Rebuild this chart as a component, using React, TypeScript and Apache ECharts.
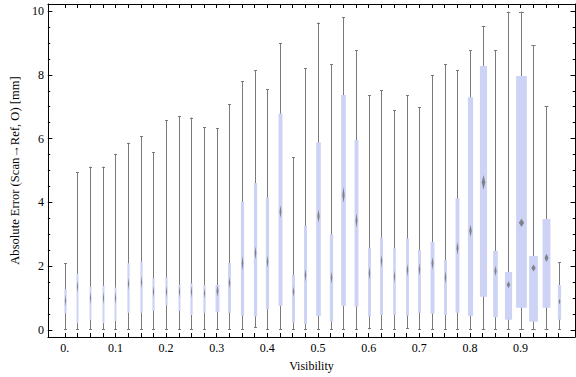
import React, { useEffect, useRef } from "react";
import * as echarts from "echarts";

// Visibility categories (box positions)
const visibility: number[] = Array.from({ length: 40 }, (_, i) => +(i * 0.025).toFixed(3));

// Whisker extremes and quartiles (mm)
const whiskerMax: number[] = [
  2.09, 4.94, 5.12, 5.12, 5.52, 5.87, 6.08, 5.57, 6.58, 6.71,
  6.66, 6.36, 6.32, 7.07, 7.8, 8.14, 7.54, 8.99, 5.41, 8.2,
  9.64, 8.33, 9.8, 8.77, 7.36, 7.51, 6.89, 7.36, 6.98, 7.98,
  8.33, 8.14, 8.77, 9.53, 8.77, 9.98, 9.98, 8.92, 7.01, 2.13,
];
const upperQuartile: number[] = [
  1.28, 1.76, 1.36, 1.39, 1.33, 2.09, 2.14, 1.62, 1.65, 1.41,
  1.46, 1.41, 1.41, 2.1, 4.02, 4.61, 4.16, 6.79, 1.72, 3.27,
  5.88, 3.01, 7.37, 5.96, 2.58, 2.9, 2.56, 2.87, 2.51, 2.76,
  2.19, 4.13, 7.3, 8.28, 2.48, 1.82, 7.96, 2.32, 3.48, 1.41,
];
const medians: number[] = [
  0.92, 1.36, 1.0, 1.0, 1.0, 1.45, 1.5, 1.2, 1.2, 1.2,
  1.2, 1.15, 1.22, 1.48, 2.09, 2.42, 2.14, 3.71, 1.2, 1.72,
  3.57, 1.64, 4.23, 3.43, 1.78, 2.16, 1.67, 1.88, 1.9, 2.09,
  1.65, 2.56, 3.11, 4.63, 1.85, 1.42, 3.36, 1.94, 2.26, 0.89,
];
const lowerQuartile: number[] = [
  0.52, 0.21, 0.31, 0.21, 0.28, 0.54, 0.54, 0.6, 0.77, 0.6,
  0.47, 0.54, 0.57, 0.54, 0.45, 0.42, 0.65, 0.75, 0.23, 0.19,
  0.44, 0.26, 0.75, 0.73, 0.42, 0.47, 0.47, 0.45, 0.54, 0.51,
  0.47, 0.54, 0.45, 1.04, 0.4, 0.32, 0.7, 0.26, 0.7, 0.32,
];
const whiskerMin: number[] = [
  0, 0, 0, 0, 0, 0, 0, 0, 0, 0,
  0, 0, 0, 0, 0, 0.07, 0, 0, 0, 0,
  0, 0, 0, 0, 0.02, 0, 0, 0.04, 0, 0,
  0, 0, 0, 0, 0, 0, 0, 0, 0, 0,
];
// Box widths in visibility units (sample weight)
const boxWidth: number[] = [
  0.0044, 0.0039, 0.0039, 0.0039, 0.0039, 0.0044, 0.0044, 0.0044, 0.0044, 0.0039,
  0.0044, 0.0044, 0.0077, 0.0058, 0.0064, 0.0064, 0.0064, 0.0077, 0.0058, 0.0058,
  0.0091, 0.0064, 0.0091, 0.0077, 0.0058, 0.0058, 0.0052, 0.0058, 0.0058, 0.0077,
  0.0058, 0.0077, 0.0102, 0.0141, 0.0091, 0.0141, 0.0212, 0.0174, 0.0155, 0.0064,
];
// Half-height of the median diamond (mm)
const medianSpread: number[] = [
  0.19, 0.19, 0.19, 0.19, 0.19, 0.19, 0.19, 0.19, 0.19, 0.19,
  0.19, 0.17, 0.17, 0.19, 0.23, 0.2, 0.19, 0.2, 0.16, 0.2,
  0.2, 0.2, 0.25, 0.23, 0.2, 0.2, 0.2, 0.2, 0.2, 0.2,
  0.2, 0.2, 0.19, 0.23, 0.16, 0.11, 0.13, 0.11, 0.13, 0.1,
];

const xLabelValues = [0, 0.1, 0.2, 0.3, 0.4, 0.5, 0.6, 0.7, 0.8, 0.9];
const yLabelValues = [0, 2, 4, 6, 8, 10];
const yMinorValues: number[] = Array.from({ length: 21 }, (_, i) => i * 0.5);

const FONT = "Liberation Serif";
const X_MIN = -0.0334;
const X_MAX = 1.0075;
const Y_MIN = -0.22;
const Y_MAX = 10.22;

export default function App() {
  const ref = useRef<HTMLDivElement>(null);
  useEffect(() => {
    if (!ref.current) return;
    const chart = echarts.init(ref.current, null, { renderer: "svg" });
    const data = visibility.map((v, i) => [
      v, whiskerMin[i], lowerQuartile[i], medians[i], upperQuartile[i], whiskerMax[i], boxWidth[i], medianSpread[i],
    ]);
    const lineStyle = { color: "#000", width: 1 };
    const option: any = {
      animation: false,
      grid: { left: 36, right: 1, top: 4, bottom: 40 },
      xAxis: [
        {
          type: "value", min: X_MIN, max: X_MAX, position: "bottom",
          axisLine: { show: true, onZero: false, lineStyle },
          axisTick: { show: true, inside: true, length: 4, customValues: visibility, lineStyle },
          axisLabel: {
            show: true, margin: 5, customValues: xLabelValues,
            fontFamily: FONT, fontSize: 12, color: "#000",
            formatter: (v: number) => (v === 0 ? "0." : String(+v.toFixed(1))),
          },
          splitLine: { show: false },
          name: "Visibility", nameLocation: "middle", nameGap: 23,
          nameTextStyle: { fontFamily: FONT, fontSize: 12, color: "#000" },
        },
        {
          type: "value", min: X_MIN, max: X_MAX, position: "top",
          axisLine: { show: true, onZero: false, lineStyle },
          axisTick: { show: true, inside: true, length: 4, customValues: visibility, lineStyle },
          axisLabel: { show: false },
          splitLine: { show: false },
        },
      ],
      yAxis: [
        {
          type: "value", min: Y_MIN, max: Y_MAX, position: "left",
          axisLine: { show: true, onZero: false, lineStyle },
          axisTick: { show: true, inside: true, length: 4.5, customValues: yLabelValues, lineStyle },
          axisLabel: {
            show: true, margin: 4, customValues: yLabelValues,
            fontFamily: FONT, fontSize: 12, color: "#000",
          },
          splitLine: { show: false },
          name: "Absolute Error (Scan\u2192Ref, O) [mm]", nameLocation: "middle", nameGap: 22,
          nameTextStyle: { fontFamily: FONT, fontSize: 12.6, color: "#000" },
        },
        {
          type: "value", min: Y_MIN, max: Y_MAX, position: "left", offset: 0,
          axisLine: { show: false, onZero: false },
          axisTick: { show: true, inside: true, length: 2.3, customValues: yMinorValues, lineStyle },
          axisLabel: { show: false },
          splitLine: { show: false },
        },
        {
          type: "value", min: Y_MIN, max: Y_MAX, position: "right", offset: 0,
          axisLine: { show: true, onZero: false, lineStyle },
          axisTick: { show: true, inside: true, length: 4.5, customValues: yLabelValues, lineStyle },
          axisLabel: { show: false },
          splitLine: { show: false },
        },
        {
          type: "value", min: Y_MIN, max: Y_MAX, position: "right", offset: 0,
          axisLine: { show: false, onZero: false },
          axisTick: { show: true, inside: true, length: 2.3, customValues: yMinorValues, lineStyle },
          axisLabel: { show: false },
          splitLine: { show: false },
        },
      ],
      series: [
        {
          type: "custom",
          xAxisIndex: 0,
          yAxisIndex: 0,
          data,
          encode: { x: 0, y: [1, 5] },
          renderItem: (params: any, api: any) => {
            const x = api.value(0);
            const pMin = api.coord([x, api.value(1)]);
            const pQ1 = api.coord([x, api.value(2)]);
            const pMed = api.coord([x, api.value(3)]);
            const pQ3 = api.coord([x, api.value(4)]);
            const pMax = api.coord([x, api.value(5)]);
            const w = api.size([api.value(6), 0])[0];
            const dh = api.size([0, api.value(7)])[1];
            const cx = Math.round(pMin[0]) + 0.5;
            const capW = Math.max(3, Math.min(5, w * 0.5));
            const dw = Math.max(1.2, w * 0.5);
            const stroke = { stroke: "#7a7a7a", lineWidth: 1 };
            return {
              type: "group",
              children: [
                { type: "line", shape: { x1: cx, y1: pMin[1], x2: cx, y2: pMax[1] }, style: stroke },
                { type: "line", shape: { x1: cx - capW / 2, y1: Math.round(pMax[1]) + 0.5, x2: cx + capW / 2, y2: Math.round(pMax[1]) + 0.5 }, style: stroke },
                { type: "line", shape: { x1: cx - capW / 2, y1: Math.round(pMin[1]) - 0.5, x2: cx + capW / 2, y2: Math.round(pMin[1]) - 0.5 }, style: stroke },
                {
                  type: "rect",
                  shape: { x: cx - w / 2, y: pQ3[1], width: w, height: pQ1[1] - pQ3[1] },
                  style: { fill: "#ccd3f5" },
                },
                {
                  type: "polygon",
                  shape: {
                    points: [
                      [cx, pMed[1] - dh],
                      [cx + dw / 2, pMed[1]],
                      [cx, pMed[1] + dh],
                      [cx - dw / 2, pMed[1]],
                    ],
                  },
                  style: { fill: "rgba(110,110,110,0.8)" },
                },
              ],
            };
          },
        },
      ],
    };
    chart.setOption(option);
    return () => chart.dispose();
  }, []);
  return (
    <div
      ref={ref}
      style={{ position: "fixed", left: 0, top: 0, width: 576, height: 377, background: "#fff" }}
    />
  );
}
